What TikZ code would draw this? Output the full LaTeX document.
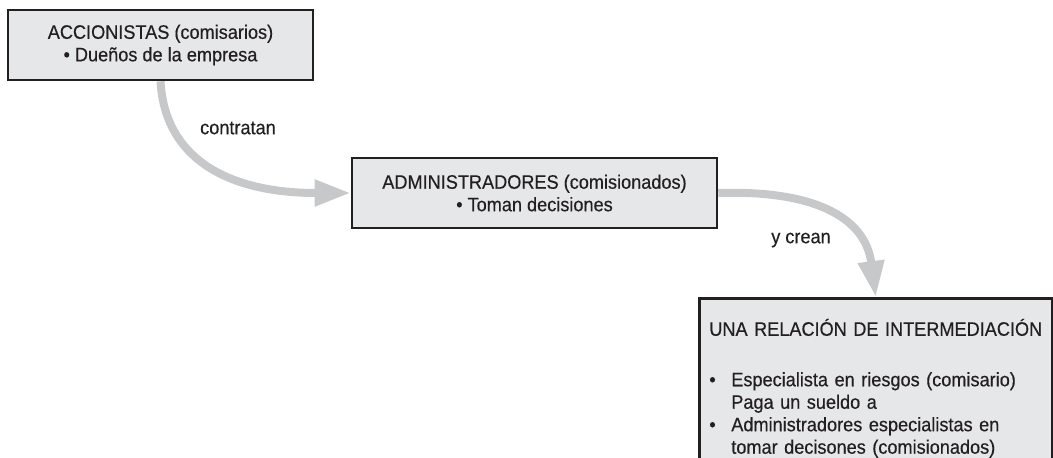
\documentclass[tikz,border=0pt]{standalone}
\usepackage{fontspec}
\setmainfont{Liberation Sans}[FakeStretch=0.93, FakeBold=0.4]
\usetikzlibrary{arrows.meta, positioning}

\definecolor{boxfill}{HTML}{E6E7E8}
\definecolor{boxline}{HTML}{231F20}
\definecolor{flowgray}{HTML}{C7C8CA}

\begin{document}
\begin{tikzpicture}[
    x=0.02cm, y=-0.02cm,
    font=\fontsize{11.1}{12.8}\selectfont,
    text=boxline,
    box/.style={rectangle, draw=boxline, line width=1.5pt, fill=boxfill, align=center, minimum height=1.4cm},
    flow/.style={draw=flowgray, line width=0.16cm, -{Triangle[length=0.72cm, width=0.5cm]}},
    lbl/.style={inner sep=0pt}
]
\useasboundingbox (0,0) rectangle (1053,457);

% Parties in the relation
\node[box, minimum width=6.1cm] (owners) at (160.5, 45) {ACCIONISTAS (comisarios)\\ \textbullet\ Dueños de la empresa};
\node[box, minimum width=7.3cm] (managers) at (534.5, 193) {ADMINISTRADORES (comisionados)\\ \textbullet\ Toman decisiones};
\node[box, anchor=north west, align=left, text width=6.66cm, inner xsep=0.2cm, inner ysep=0.2cm, minimum height=3.6cm] (agency) at (698, 297)
    {\mbox{UNA RELACIÓN DE INTERMEDIACIÓN}\\[0.56cm]
     \makebox[0.44cm][l]{\textbullet}Especialista en riesgos (comisario)\\
     \hspace*{0.44cm}Paga un sueldo a\\
     \makebox[0.44cm][l]{\textbullet}Administradores especialistas en\\
     \hspace*{0.44cm}tomar decisones (comisionados)};

% Curved arrows between the boxes
\draw[flow] (owners.south) .. controls (165, 160) and (230, 193) .. (managers.west);
\draw[flow] (managers.east) .. controls (810, 190) and (865, 215) .. (agency.north);

% Arrow labels
\node[lbl] (hire) at (238, 128) {contratan};
\node[lbl] (create) at (801, 240) {y crean};

\end{tikzpicture}
\end{document}
